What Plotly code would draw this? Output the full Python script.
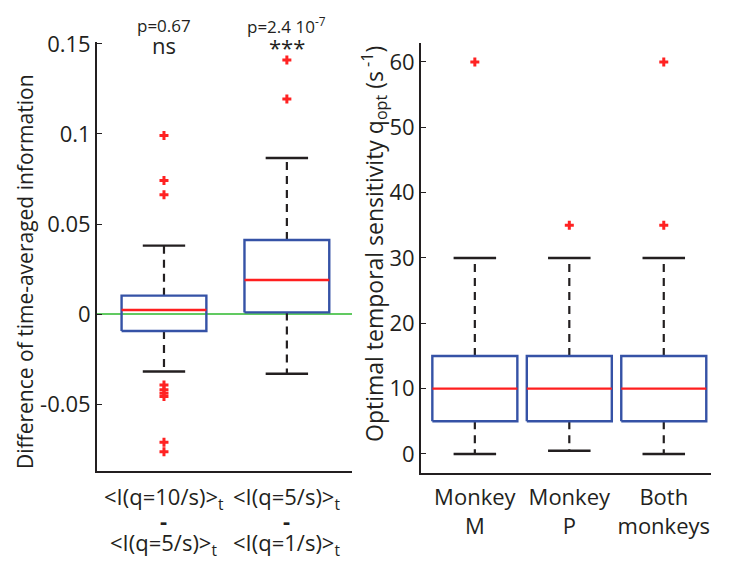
import plotly.graph_objects as go

# ---------------- data ----------------
# Left panel: differences of time-averaged information
left_labels_top = ["&lt;I(q=10/s)&gt;<sub>t</sub>", "&lt;I(q=5/s)&gt;<sub>t</sub>"]
left_labels_bottom = ["&lt;I(q=5/s)&gt;<sub>t</sub>", "&lt;I(q=1/s)&gt;<sub>t</sub>"]
left_q1 = [-0.0094, 0.0009]
left_median = [0.0022, 0.0189]
left_q3 = [0.0102, 0.0411]
left_lower = [-0.0319, -0.0332]
left_upper = [0.0380, 0.0867]
left_outliers = [
    [0.0991, 0.0741, 0.0663, -0.0394, -0.0420, -0.0440, -0.0458, -0.0712, -0.0765],
    [0.1195, 0.1411],
]
left_pvalues = ["p=0.67", "p=2.4 10<sup>-7</sup>"]
left_signif = ["ns", "***"]
left_yticks = [-0.05, 0, 0.05, 0.1, 0.15]
left_yticklabels = ["-0.05", "0", "0.05", "0.1", "0.15"]

# Right panel: optimal temporal sensitivity
right_labels = ["Monkey<br>M", "Monkey<br>P", "Both<br>monkeys"]
right_q1 = [5, 5, 5]
right_median = [10, 10, 10]
right_q3 = [15, 15, 15]
right_lower = [0, 0.5, 0]
right_upper = [30, 30, 30]
right_outliers = [[60], [35], [60, 35]]
right_yticks = [0, 10, 20, 30, 40, 50, 60]

# ---------------- style ----------------
FONT = "Open Sans"
TXT = "#231f20"
BOX = "#3552a6"
MED = "#ff1f1f"
WHISK = "#231f20"
OUT = "#ff2222"
GREEN = "#2db92d"

# page offset (body margin) compensation
OX, OY = 8, 8
W, H = 731 - OX, 561 - OY


def px(x):
    return (x - OX) / W


def py(y):
    return 1 - (y - OY) / H


fig = go.Figure()


def add_boxes(xa, ya, q1s, meds, q3s, lows, ups, outs, width):
    for i in range(len(q1s)):
        c = i + 1
        h = width / 2
        cap = width / 4
        # whiskers (dashed)
        fig.add_trace(go.Scatter(x=[c, c], y=[q3s[i], ups[i]], mode="lines",
                                 line=dict(color=WHISK, width=2.2, dash="8px,6px"),
                                 xaxis=xa, yaxis=ya, hoverinfo="skip"))
        fig.add_trace(go.Scatter(x=[c, c], y=[q1s[i], lows[i]], mode="lines",
                                 line=dict(color=WHISK, width=2.2, dash="8px,6px"),
                                 xaxis=xa, yaxis=ya, hoverinfo="skip"))
        # caps
        for v in (ups[i], lows[i]):
            fig.add_trace(go.Scatter(x=[c - cap, c + cap], y=[v, v], mode="lines",
                                     line=dict(color=WHISK, width=2.4),
                                     xaxis=xa, yaxis=ya, hoverinfo="skip"))
        # box
        fig.add_trace(go.Scatter(x=[c - h, c + h, c + h, c - h, c - h],
                                 y=[q1s[i], q1s[i], q3s[i], q3s[i], q1s[i]],
                                 mode="lines", line=dict(color=BOX, width=2.4),
                                 xaxis=xa, yaxis=ya, hoverinfo="skip"))
        # median
        fig.add_trace(go.Scatter(x=[c - h, c + h], y=[meds[i], meds[i]], mode="lines",
                                 line=dict(color=MED, width=2.4),
                                 xaxis=xa, yaxis=ya, hoverinfo="skip"))
        # outliers
        fig.add_trace(go.Scatter(x=[c] * len(outs[i]), y=outs[i], mode="markers",
                                 marker=dict(symbol="cross", size=7.5, color=OUT,
                                             line=dict(width=0)),
                                 xaxis=xa, yaxis=ya, hoverinfo="skip"))


# green zero line on the left panel
LX = [0.455, 2.53]
fig.add_trace(go.Scatter(x=LX, y=[0, 0], mode="lines",
                         line=dict(color=GREEN, width=1.3),
                         xaxis="x", yaxis="y", hoverinfo="skip"))

add_boxes("x", "y", left_q1, left_median, left_q3, left_lower, left_upper,
          left_outliers, 0.69)
add_boxes("x2", "y2", right_q1, right_median, right_q3, right_lower, right_upper,
          right_outliers, 0.9)

axis_common = dict(showgrid=False, zeroline=False, showline=True, automargin=False,
                   linecolor=TXT, linewidth=1.8, ticklen=5,
                   tickcolor=TXT, tickwidth=1.2,
                   tickfont=dict(family=FONT, size=22, color=TXT))

fig.update_layout(
    width=W, height=H,
    margin=dict(l=0, r=0, t=0, b=0, autoexpand=False),
    paper_bgcolor="white", plot_bgcolor="white",
    showlegend=False,
    xaxis=dict(domain=[px(97), px(352)], range=LX, anchor="y",
               showticklabels=False, ticks="", **axis_common),
    yaxis=dict(domain=[py(471), py(42)], range=[-0.0872, 0.1511],
               anchor="x", tickvals=left_yticks, ticktext=left_yticklabels,
               ticks="inside", **axis_common),
    xaxis2=dict(domain=[px(421), px(711)], range=[0.43, 3.5], anchor="y2",
                tickvals=[1, 2, 3], ticktext=right_labels, ticks="",
                ticklabelstandoff=4, **axis_common),
    yaxis2=dict(domain=[py(473), py(43)], range=[-2.91, 62.9],
                anchor="x2", tickvals=right_yticks, ticks="inside", **axis_common),
)

anns = []


def ann(text, x, y, size, xref="paper", angle=0):
    anns.append(dict(text=text, x=x, y=y, xref=xref, yref="paper", textangle=angle,
                     xanchor="center", yanchor="middle", showarrow=False,
                     font=dict(family=FONT, size=size, color=TXT)))


# y-axis titles
ann("Difference of time-averaged information", px(25), py(272), 21, angle=-90)
ann("Optimal temporal sensitivity q<sub>opt</sub> (s<sup> -1</sup>)",
    px(374), py(244), 23, angle=-90)
# left x category labels (three lines each), p-values and significance
for i in range(len(left_labels_top)):
    c = i + 1
    ann(left_labels_top[i], c, py(498), 22, xref="x")
    ann("<b>-</b>", c, py(520), 22, xref="x")
    ann(left_labels_bottom[i], c, py(544), 22, xref="x")
    ann(left_pvalues[i], c, py(25), 17, xref="x")
    ann(left_signif[i], c, py(45 if i == 0 else 47), 22, xref="x")
fig.update_layout(annotations=anns)

fig.write_html("out.html")
